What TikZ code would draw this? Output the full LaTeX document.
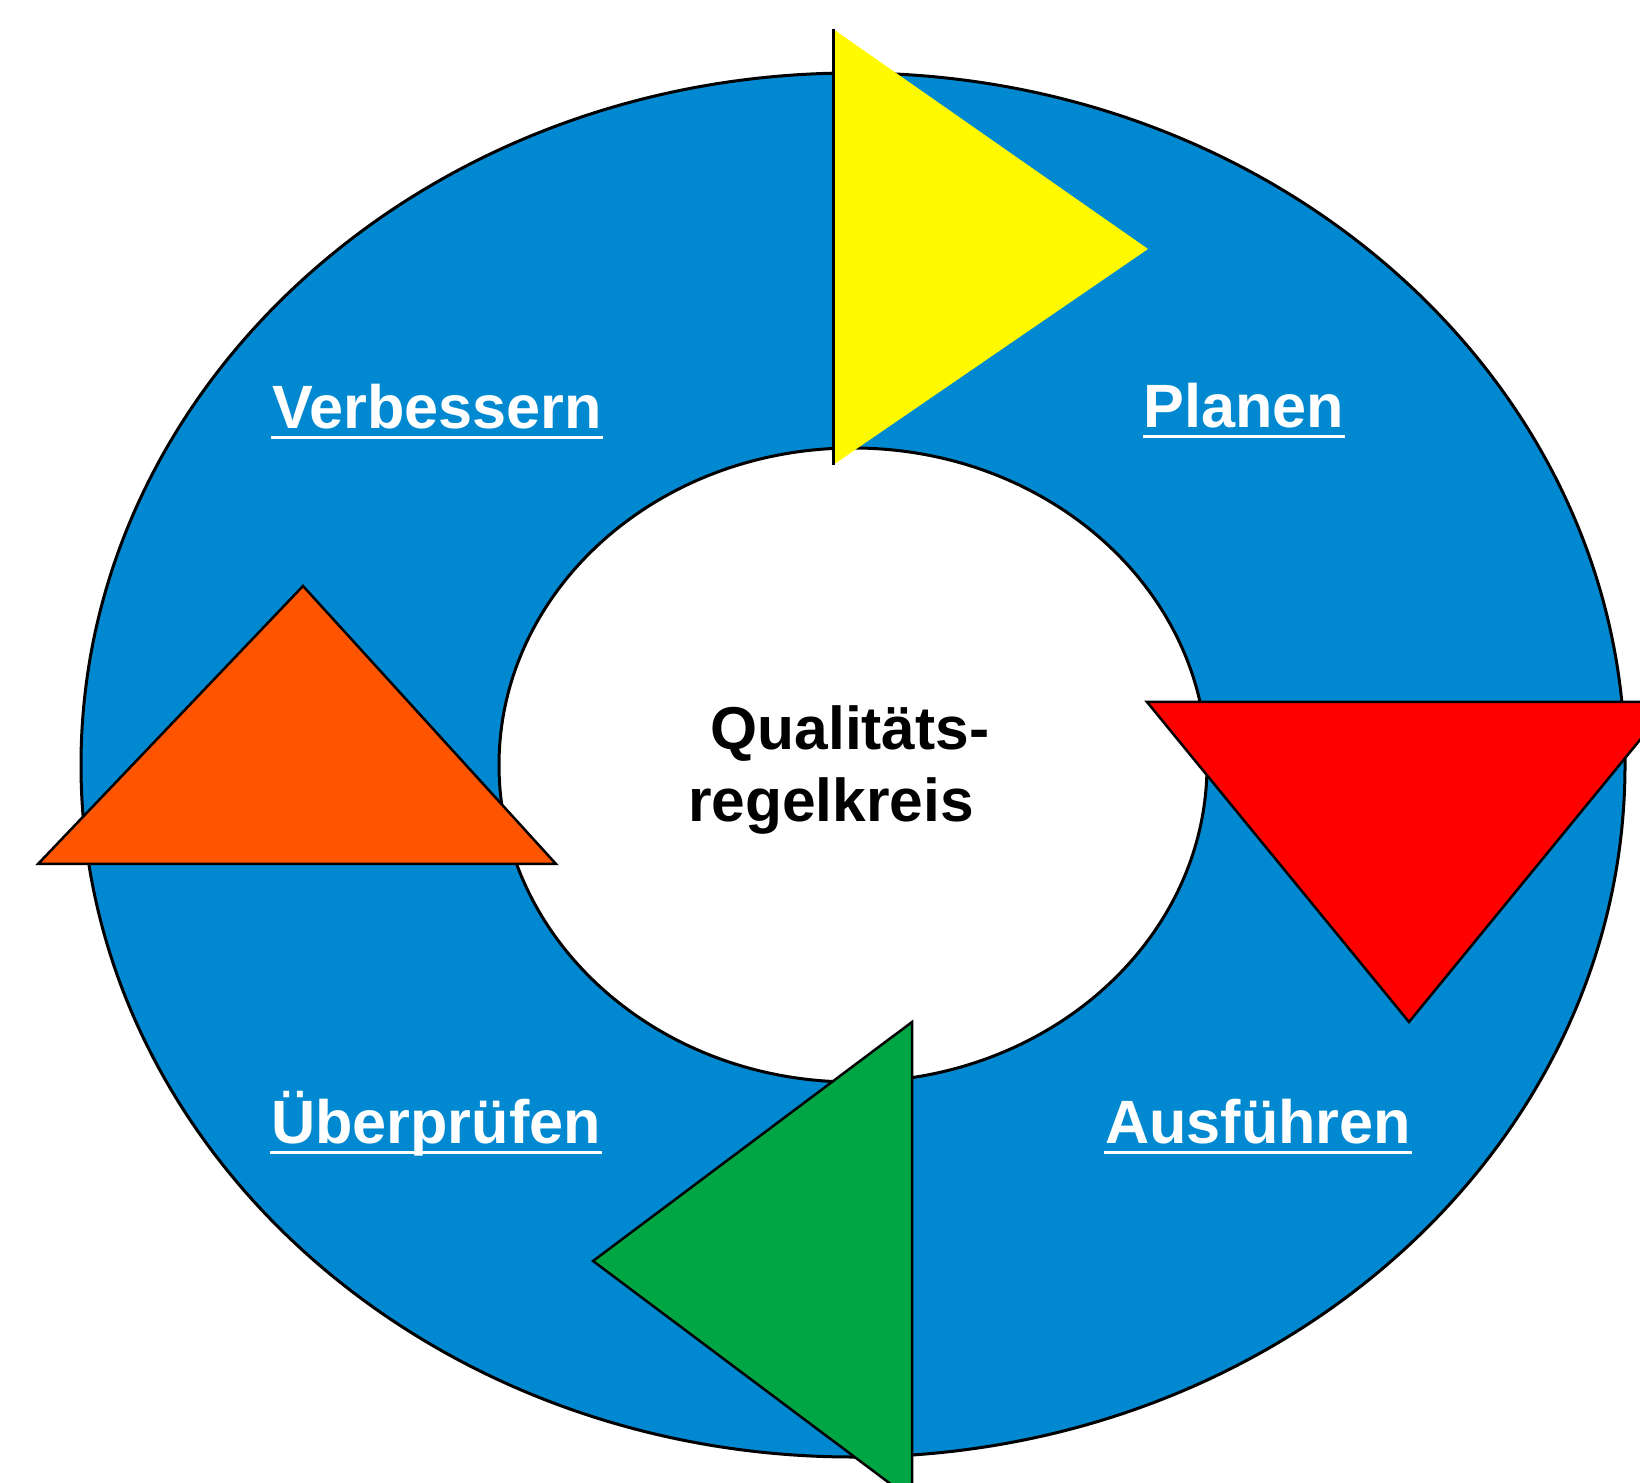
\documentclass[tikz,border=0pt]{standalone}
\usepackage{fontspec}
\setmainfont{Liberation Sans}
\usetikzlibrary{positioning}

\definecolor{ringblau}{RGB}{0,137,209}
\definecolor{gelb}{RGB}{255,250,0}
\definecolor{rot}{RGB}{255,0,0}
\definecolor{orange}{RGB}{255,85,0}
\definecolor{gruen}{RGB}{0,166,68}

\tikzset{
  stufe/.style={text=white, inner sep=0pt, anchor=base,
    font=\bfseries\fontsize{17.4}{20}\selectfont},
  kern/.style={text=black, inner sep=0pt, anchor=base,
    font=\bfseries\fontsize{17.2}{20}\selectfont},
  unterstrich/.style={white, line width=0.03cm},
  dreieck/.style={draw=black, line width=0.025cm, line join=miter},
}

\begin{document}
\begin{tikzpicture}[x=0.01cm, y=-0.01cm]
    % 0. 画布 (像素坐标)
    \useasboundingbox (0,0) rectangle (1640,1483);
    \clip (0,0) rectangle (1640,1483);

    % 1. 圆环
    \coordinate (mitte) at (853,765);
    \draw[fill=ringblau, line width=0.03cm] (mitte) ellipse [x radius=772, y radius=692];
    \draw[fill=white, line width=0.03cm] (mitte) ellipse [x radius=354, y radius=317];

    % 2. 定义三角形的角点
    % 黄色 (上)
    \coordinate (gelb-oben) at (833,29);
    \coordinate (gelb-unten) at (833,465);
    \coordinate (gelb-spitze) at (1148,249);
    % 红色 (右)
    \coordinate (rot-links) at (1147,702);
    \coordinate (rot-rechts) at (1671,702);
    \coordinate (rot-spitze) at (1409,1022);
    % 绿色 (下)
    \coordinate (gruen-oben) at (912,1022);
    \coordinate (gruen-unten) at (912,1500);
    \coordinate (gruen-spitze) at (593,1261);
    % 橙色 (左)
    \coordinate (orange-spitze) at (303,586);
    \coordinate (orange-links) at (38,864);
    \coordinate (orange-rechts) at (556,864);

    % 3. 绘制三角形
    \fill[gelb] (gelb-oben) -- (gelb-spitze) -- (gelb-unten) -- cycle;
    \draw[line width=0.03cm] (gelb-oben) -- (gelb-unten);
    \draw[dreieck, fill=rot] (rot-links) -- (rot-rechts) -- (rot-spitze) -- cycle;
    \draw[dreieck, fill=gruen] (gruen-oben) -- (gruen-unten) -- (gruen-spitze) -- cycle;
    \draw[dreieck, fill=orange] (orange-links) -- (orange-spitze) -- (orange-rechts) -- cycle;

    % 4. 中间文字
    \node[kern] (qualitaet) at (850,750) {Qualitäts-};
    \node[kern] (regelkreis) at (831,822) {regelkreis};

    % 5. 四个阶段 (白色, 下划线)
    \node[stufe] (planen) at (1244,428) {Planen};
    \node[stufe] (verbessern) at (437,429) {Verbessern};
    \node[stufe] (ausfuehren) at (1258,1143) {Ausführen};
    \node[stufe] (ueberpruefen) at (436,1143) {Überprüfen};

    \draw[unterstrich] ([yshift=-0.09cm]planen.base west) -- ([yshift=-0.09cm]planen.base east);
    \draw[unterstrich] ([yshift=-0.09cm]verbessern.base west) -- ([yshift=-0.09cm]verbessern.base east);
    \draw[unterstrich] ([yshift=-0.09cm]ausfuehren.base west) -- ([yshift=-0.09cm]ausfuehren.base east);
    \draw[unterstrich] ([yshift=-0.09cm]ueberpruefen.base west) -- ([yshift=-0.09cm]ueberpruefen.base east);

\end{tikzpicture}
\end{document}
